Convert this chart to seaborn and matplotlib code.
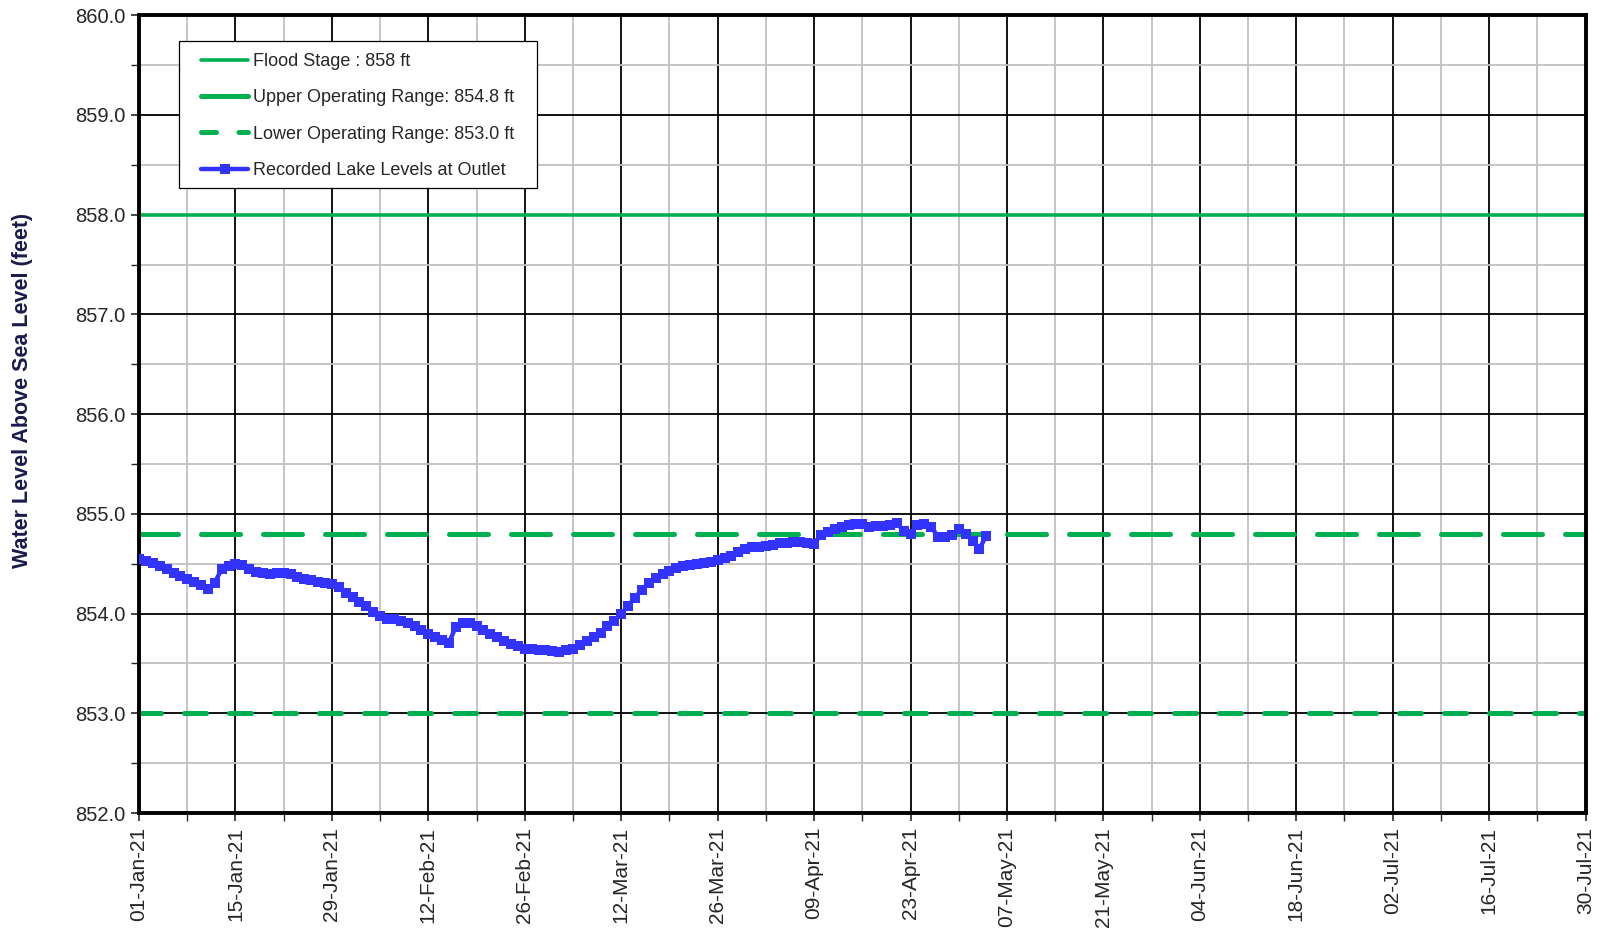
import matplotlib
matplotlib.use("Agg")
import matplotlib.pyplot as plt
import matplotlib.dates as mdates
from matplotlib.ticker import MultipleLocator, FixedLocator, FormatStrFormatter
from matplotlib.lines import Line2D
from matplotlib.patches import Rectangle
import seaborn as sns
import pandas as pd

# Daily lake level readings at the outlet, starting 01-Jan-2021 (feet above sea level)
start_date = "2021-01-01"
lake_levels = [
    854.55, 854.53, 854.51, 854.48, 854.45, 854.41, 854.38, 854.35, 854.32, 854.29,
    854.25, 854.31, 854.45, 854.48, 854.50, 854.49, 854.45, 854.42, 854.41, 854.40,
    854.41, 854.41, 854.40, 854.37, 854.35, 854.34, 854.32, 854.31, 854.30, 854.27,
    854.21, 854.17, 854.12, 854.08, 854.02, 853.98, 853.95, 853.95, 853.93, 853.91,
    853.88, 853.84, 853.80, 853.77, 853.74, 853.71, 853.87, 853.91, 853.91, 853.88,
    853.84, 853.80, 853.77, 853.73, 853.70, 853.68, 853.65, 853.64, 853.63, 853.63,
    853.62, 853.61, 853.63, 853.65, 853.69, 853.73, 853.77, 853.81, 853.88, 853.93,
    854.00, 854.08, 854.16, 854.24, 854.31, 854.36, 854.40, 854.43, 854.46, 854.48,
    854.49, 854.50, 854.51, 854.52, 854.54, 854.56, 854.58, 854.62, 854.65, 854.67,
    854.67, 854.68, 854.69, 854.71, 854.71, 854.72, 854.72, 854.71, 854.70, 854.79,
    854.82, 854.85, 854.87, 854.89, 854.90, 854.90, 854.87, 854.88, 854.88, 854.89,
    854.91, 854.83, 854.80, 854.89, 854.90, 854.87, 854.77, 854.77, 854.79, 854.85,
    854.80, 854.73, 854.65, 854.78,
]

# Reference levels
flood_stage = 858.0
upper_range = 854.8
lower_range = 853.0

legend_labels = [
    "Flood Stage : 858 ft",
    "Upper Operating Range: 854.8 ft",
    "Lower Operating Range: 853.0 ft",
    "Recorded Lake Levels at Outlet",
]

x_start, x_end = "2021-01-01", "2021-07-30"
y_min, y_max = 852.0, 860.0
y_label = "Water Level Above Sea Level (feet)"

df = pd.DataFrame({
    "date": pd.date_range(start_date, periods=len(lake_levels), freq="D"),
    "level": lake_levels,
})

sns.set_style("white")
plt.rcParams["font.family"] = ["Liberation Sans", "DejaVu Sans"]

fig = plt.figure(figsize=(16.04, 9.31), dpi=100)
ax = fig.add_axes([0.0867, 0.1267, 0.9885 - 0.0867, 0.9836 - 0.1267])

green = "#00B050"
blue = "#3333FF"

# Grid: black major lines, grey minor lines
x0, x1 = pd.Timestamp(x_start), pd.Timestamp(x_end)
major_days = pd.date_range(x0, x1, freq="14D")
minor_days = pd.date_range(x0, x1, freq="7D")
ax.xaxis.set_major_locator(FixedLocator(mdates.date2num(major_days)))
ax.xaxis.set_minor_locator(FixedLocator(mdates.date2num(minor_days)))
ax.xaxis.set_major_formatter(mdates.DateFormatter("%d-%b-%y"))
ax.yaxis.set_major_locator(MultipleLocator(1.0))
ax.yaxis.set_minor_locator(MultipleLocator(0.5))
ax.yaxis.set_major_formatter(FormatStrFormatter("%.1f"))

ax.grid(which="minor", color="#C0C0C0", linewidth=1.3, zorder=0)
ax.grid(which="major", color="black", linewidth=1.3, zorder=0.5)
ax.set_axisbelow(True)

# Reference lines
ax.axhline(flood_stage, color=green, linewidth=2.6, zorder=2)
ax.axhline(upper_range, color=green, linewidth=3.6, dashes=(7.8, 4.6),
           dash_capstyle="round", zorder=2)
ax.axhline(lower_range, color=green, linewidth=3.6, dashes=(4.4, 4.6),
           dash_capstyle="round", zorder=2)

# Recorded levels
sns.lineplot(data=df, x="date", y="level", ax=ax, color=blue, linewidth=3.2,
             marker="s", markersize=6.5, markeredgewidth=0, zorder=3)

ax.set_xlim(mdates.date2num(x0), mdates.date2num(x1))
ax.set_ylim(y_min, y_max)
ax.set_xlabel("")
ax.set_ylabel(y_label, fontsize=15.5, fontweight="bold", color="#1B1B4B", labelpad=30)
ax.yaxis.label.set_y(0.53)

ax.tick_params(axis="x", which="major", rotation=90, labelsize=15, length=6,
               width=1.2, direction="out", pad=4, bottom=True)
ax.tick_params(axis="x", which="minor", length=6, width=1.0, direction="out", bottom=True)
ax.tick_params(axis="y", which="major", labelsize=14.5, length=6, width=1.2,
               direction="out", left=True, pad=4)
ax.tick_params(axis="y", which="minor", length=6, width=1.0, direction="out", left=True)
for lbl in ax.get_yticklabels():
    lbl.set_family(["Liberation Sans Narrow", "Liberation Sans", "DejaVu Sans"])

for side in ["left", "right", "top", "bottom"]:
    ax.spines[side].set_visible(True)
    ax.spines[side].set_color("black")
    ax.spines[side].set_linewidth(2.8)

# Legend: entries without their own frame, boxed by a plain rectangle
handles = [
    Line2D([], [], color=green, linewidth=2.6),
    Line2D([], [], color=green, linewidth=3.6, dash_capstyle="round"),
    Line2D([], [], color=green, linewidth=3.6, dashes=(3.0, 4.5), dash_capstyle="round"),
    Line2D([], [], color=blue, linewidth=3.2, marker="s", markersize=6.5, markeredgewidth=0),
]
ax.add_patch(Rectangle((0.0276, 0.7835), 0.2475, 0.1843, transform=ax.transAxes,
                       facecolor="white", edgecolor="black", linewidth=0.9, zorder=4))
leg = ax.legend(handles, legend_labels, loc="upper left",
                bbox_to_anchor=(0.0431, 0.9525), borderaxespad=0, borderpad=0,
                fontsize=13, frameon=False, handlelength=2.6, handletextpad=0.25,
                labelspacing=1.07, numpoints=1)
leg.set_zorder(5)

fig.savefig("out.png", dpi=100)
